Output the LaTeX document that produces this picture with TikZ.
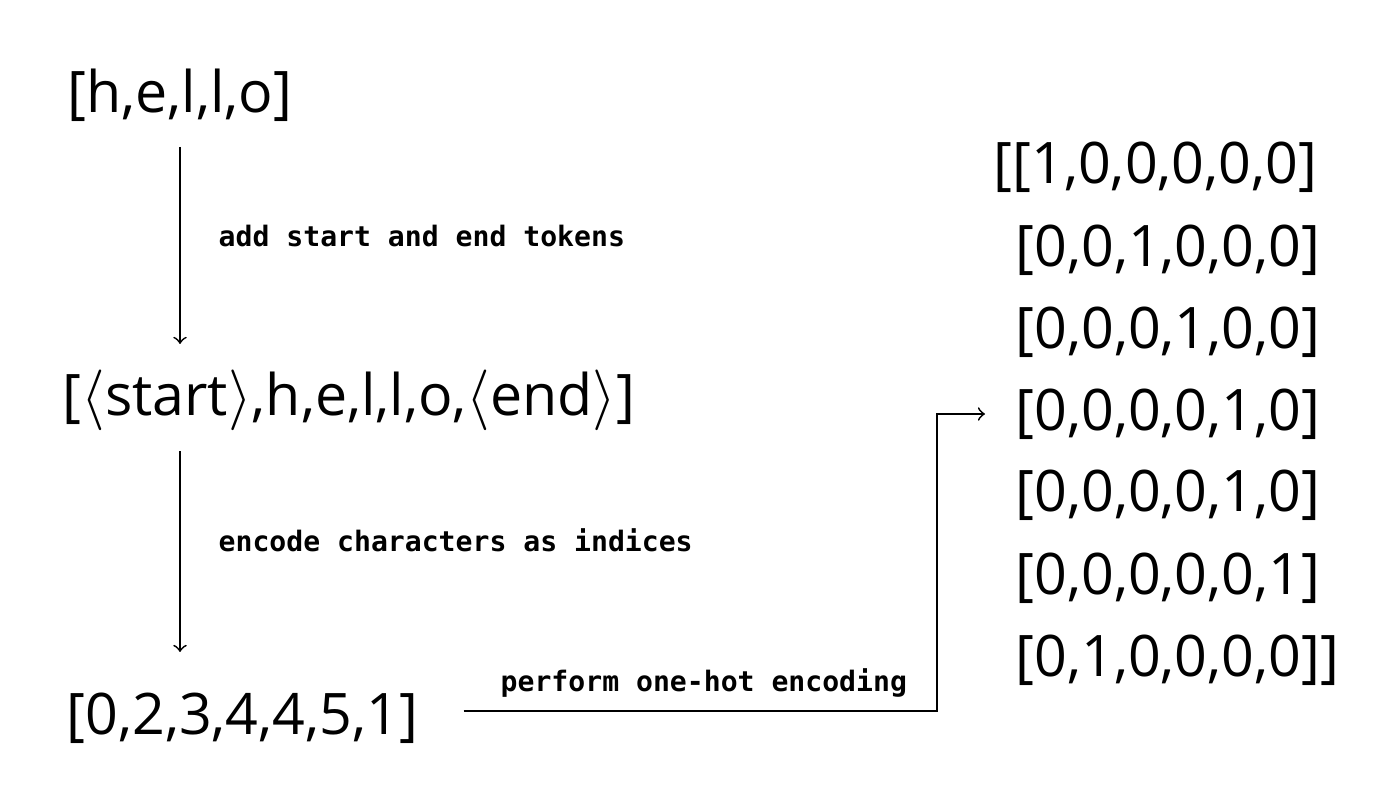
\documentclass[tikz,border=0pt]{standalone}
\usepackage{fontspec}
\setmainfont{Open Sans}
\newfontfamily\notefont{DejaVu Sans Mono}
\usetikzlibrary{positioning}

\tikzset{
  big/.style={inner sep=0pt, font=\fontsize{16.3}{20}\selectfont},
  note/.style={inner sep=0pt, anchor=west, font=\notefont\bfseries\fontsize{8}{10}\selectfont},
  flow/.style={->, line width=0.5pt}
}

\begin{document}
\begin{tikzpicture}
		\useasboundingbox (0,0) rectangle (14,8.03);

		\draw (1.80,7.08) node [big] (word) {[h,e,l,l,o]};
		\draw (0.62,4.03) node [big, anchor=west] (tokens) {[$\langle$start$\rangle$,h,e,l,l,o,$\langle$end$\rangle$]};
		\draw (0.66,0.85) node [big, anchor=west] (nums) {[0,2,3,4,4,5,1]};

		\draw (2.18,5.67) node [note] (add) {add start and end tokens};
		\draw (2.18,2.63) node [note] (enc) {encode characters as indices};
		\draw (5.00,1.20) node [note] (hot) {perform one-hot encoding};

		% one-hot rows
		\draw (9.93,6.36) node [big, anchor=west] (row1) {[[1,0,0,0,0,0]};
		\draw (10.15,5.53) node [big, anchor=west] (row2) {[0,0,1,0,0,0]};
		\draw (10.15,4.71) node [big, anchor=west] (row3) {[0,0,0,1,0,0]};
		\draw (10.15,3.89) node [big, anchor=west] (row4) {[0,0,0,0,1,0]};
		\draw (10.15,3.08) node [big, anchor=west] (row5) {[0,0,0,0,1,0]};
		\draw (10.15,2.25) node [big, anchor=west] (row6) {[0,0,0,0,0,1]};
		\draw (10.15,1.43) node [big, anchor=west] (row7) {[0,1,0,0,0,0]]};

		\coordinate (bend) at (9.37,0.92);

		\draw [flow, shorten <=0.25cm, shorten >=0.25cm] (word.south) -- (word.south |- tokens.north);
		\draw [flow, shorten <=0.2cm, shorten >=0.4cm] (word.south |- tokens.south) -- (word.south |- nums.north);
		\draw [flow, shorten >=0.3cm] (nums.east |- bend) ++(0.45,0) -- (bend) |- (row4.west);
	\end{tikzpicture}
\end{document}
